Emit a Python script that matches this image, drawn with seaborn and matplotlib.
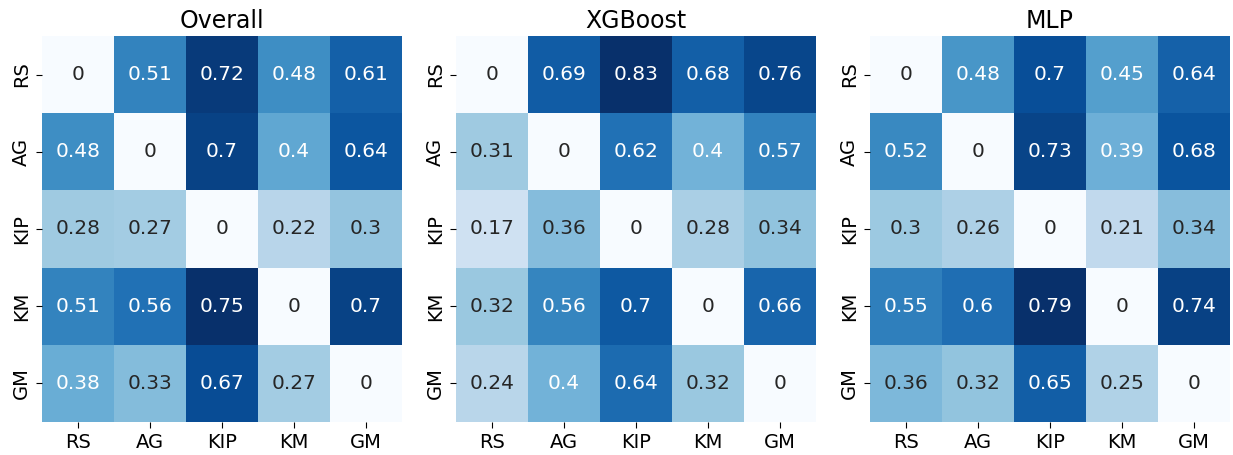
import seaborn as sns
import pandas as pd
import matplotlib.pyplot as plt

methods = ['RS', 'AG', 'KIP', 'KM', 'GM']
titles = ['Overall', 'XGBoost', 'MLP']

overall = [[0, 0.51, 0.72, 0.48, 0.61],
           [0.48, 0, 0.7, 0.4, 0.64],
           [0.28, 0.27, 0, 0.22, 0.3],
           [0.51, 0.56, 0.75, 0, 0.7],
           [0.38, 0.33, 0.67, 0.27, 0]]
xgboost = [[0, 0.69, 0.83, 0.68, 0.76],
           [0.31, 0, 0.62, 0.4, 0.57],
           [0.17, 0.36, 0, 0.28, 0.34],
           [0.32, 0.56, 0.7, 0, 0.66],
           [0.24, 0.4, 0.64, 0.32, 0]]
mlp = [[0, 0.48, 0.7, 0.45, 0.64],
       [0.52, 0, 0.73, 0.39, 0.68],
       [0.3, 0.26, 0, 0.21, 0.34],
       [0.55, 0.6, 0.79, 0, 0.74],
       [0.36, 0.32, 0.65, 0.25, 0]]

fig, axes = plt.subplots(1, 3, figsize=(12.33, 4.55), dpi=100)
for ax, title, vals in zip(axes, titles, [overall, xgboost, mlp]):
    df = pd.DataFrame(vals, index=methods, columns=methods)
    sns.heatmap(df, ax=ax, cmap='Blues', annot=True, cbar=False,
                annot_kws={'fontsize': 14.5})
    ax.set_title(title, fontsize=17)
    ax.tick_params(axis='both', labelsize=14, length=4.5)
plt.subplots_adjust(left=0.034, right=0.9976, top=0.921, bottom=0.0725, wspace=0.15)
plt.savefig('out.png')
